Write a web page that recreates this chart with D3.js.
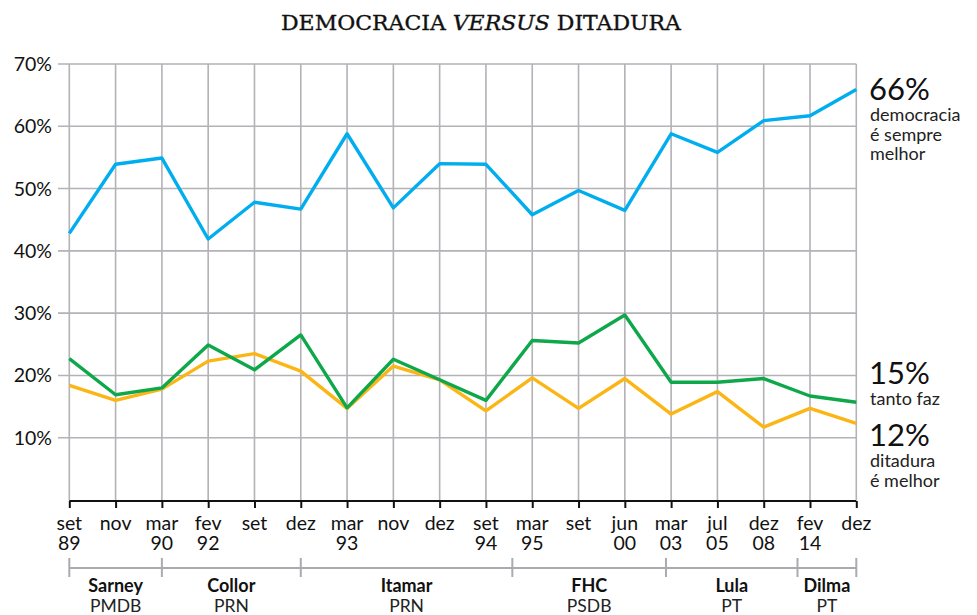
<!DOCTYPE html>
<html><head><meta charset="utf-8">
<script src="https://cdn.jsdelivr.net/npm/d3@7"></script>
<style>body{margin:0;background:#fff}svg{display:block}</style>
</head><body>
<svg id="c" width="977" height="615"></svg>
<script>
const months = ["set","nov","mar","fev","set","dez","mar","nov","dez","set","mar","set","jun","mar","jul","dez","fev","dez"];
const years  = ["89","","90","92","","","93","","","94","95","","00","03","05","08","14",""];
const democracia = [42.8,53.9,54.9,41.9,47.8,46.7,58.8,46.9,54.0,53.9,45.8,49.7,46.5,58.8,55.8,60.9,61.7,65.9];
const tantoFaz   = [22.7,16.9,18.0,24.9,20.9,26.5,14.8,22.6,19.3,16.0,25.6,25.2,29.7,18.9,18.9,19.5,16.7,15.7];
const ditadura   = [18.4,16.0,17.8,22.3,23.5,20.7,14.7,21.5,19.3,14.3,19.6,14.7,19.5,13.8,17.4,11.7,14.7,12.3];
const yTicks = [10,20,30,40,50,60,70];
const govNames   = ["Sarney","Collor","Itamar","FHC","Lula","Dilma"];
const govParties = ["PMDB","PRN","PRN","PSDB","PT","PT"];
const govStart   = [0, 2, 5, 9.57, 12.89, 15.73];
const govEnd     = [2, 5, 9.57, 12.89, 15.73, 17];
const lastLabels = [
  {value:"66%", lines:["democracia","é sempre","melhor"]},
  {value:"15%", lines:["tanto faz"]},
  {value:"12%", lines:["ditadura","é melhor"]}
];

const svg = d3.select("#c");
const font = "Lato, 'Open Sans', sans-serif";
const x = d3.scaleLinear().domain([0, 17]).range([69.3, 856.3]);
const y = d3.scaleLinear().domain([0, 70]).range([500, 64]);
const grid = "#b2b2b7";
const colors = {democracia:"#00aeef", tantoFaz:"#0ea84b", ditadura:"#fbb615"};

// title
const t = svg.append("text").attr("x", 481).attr("y", 30).attr("text-anchor","middle")
  .attr("font-family","'DejaVu Serif', serif").attr("font-size",20).attr("fill","#111")
  .attr("stroke","#111").attr("stroke-width",0.35)
  .attr("textLength", 400).attr("lengthAdjust","spacingAndGlyphs");
t.append("tspan").text("DEMOCRACIA ");
t.append("tspan").attr("font-style","italic").text("VERSUS");
t.append("tspan").text(" DITADURA");

// horizontal grid
svg.append("g").selectAll("line").data(yTicks).join("line")
  .attr("x1", 58).attr("x2", x(17)).attr("y1", d=>y(d)).attr("y2", d=>y(d))
  .attr("stroke", grid).attr("stroke-width", 1.6);
// vertical grid
svg.append("g").selectAll("line").data(d3.range(18)).join("line")
  .attr("x1", d=>x(d)).attr("x2", d=>x(d)).attr("y1", y(70)).attr("y2", y(0))
  .attr("stroke", grid).attr("stroke-width", 1.6);

// y labels
svg.append("g").selectAll("text").data(yTicks).join("text")
  .attr("x", 52).attr("y", d=>y(d)+7).attr("text-anchor","end")
  .attr("font-family", font).attr("font-size",19.5).attr("fill","#111")
  .text(d=>d+"%");

// x axis
const xAxis = d3.axisBottom(x).tickValues(d3.range(18)).tickSize(7).tickFormat("");
const gx = svg.append("g").attr("transform",`translate(0,${y(0)+1})`).call(xAxis);
gx.select(".domain").attr("stroke","#111").attr("stroke-width",2.2).attr("d",`M${x(0)},0H${x(17)}`);
gx.selectAll(".tick line").attr("stroke","#111").attr("stroke-width",2);

svg.append("g").selectAll("text").data(months).join("text")
  .attr("x",(d,i)=>x(i)).attr("y",530).attr("text-anchor","middle")
  .attr("font-family",font).attr("font-size",19.5).attr("fill","#111").text(d=>d);
svg.append("g").selectAll("text").data(years).join("text")
  .attr("x",(d,i)=>x(i)).attr("y",550).attr("text-anchor","middle")
  .attr("font-family",font).attr("font-size",19.5).attr("fill","#111").text(d=>d);

// governments
const gg = svg.append("g");
gg.append("line").attr("x1",x(0)).attr("x2",x(17)).attr("y1",568).attr("y2",568)
  .attr("stroke","#aaaaaf").attr("stroke-width",2);
const bounds = govStart.concat([govEnd[govEnd.length-1]]);
gg.selectAll("line.b").data(bounds).join("line").attr("class","b")
  .attr("x1",d=>x(d)).attr("x2",d=>x(d)).attr("y1",558).attr("y2",577)
  .attr("stroke","#aaaaaf").attr("stroke-width",2);
gg.selectAll("text.n").data(govNames).join("text").attr("class","n")
  .attr("x",(d,i)=>(x(govStart[i])+x(govEnd[i]))/2).attr("y",592).attr("text-anchor","middle")
  .attr("font-family",font).attr("font-weight",700).attr("font-size",18).attr("fill","#111").text(d=>d);
gg.selectAll("text.p").data(govParties).join("text").attr("class","p")
  .attr("x",(d,i)=>(x(govStart[i])+x(govEnd[i]))/2).attr("y",612).attr("text-anchor","middle")
  .attr("font-family",font).attr("font-size",17.5).attr("fill","#222").text(d=>d);

// lines
const line = d3.line().x((d,i)=>x(i)).y(d=>y(d));
const seriesData = {democracia, tantoFaz, ditadura};
["ditadura","tantoFaz","democracia"].forEach(k=>{
  svg.append("path").datum(seriesData[k]).attr("d",line).attr("fill","none")
    .attr("stroke",colors[k]).attr("stroke-width",3.4).attr("stroke-linejoin","round");
});

// right labels
const lblY = [100, 384, 446];
lastLabels.forEach((L,i)=>{
  svg.append("text").attr("x",869).attr("y",lblY[i]).attr("font-family",font)
    .attr("font-size",31).attr("fill","#111").text(L.value);
  L.lines.forEach((s,j)=>{
    svg.append("text").attr("x",870).attr("y",lblY[i]+21+j*19.5).attr("font-family",font)
      .attr("font-size",18).attr("fill","#222").text(s);
  });
});
</script>
</body></html>
